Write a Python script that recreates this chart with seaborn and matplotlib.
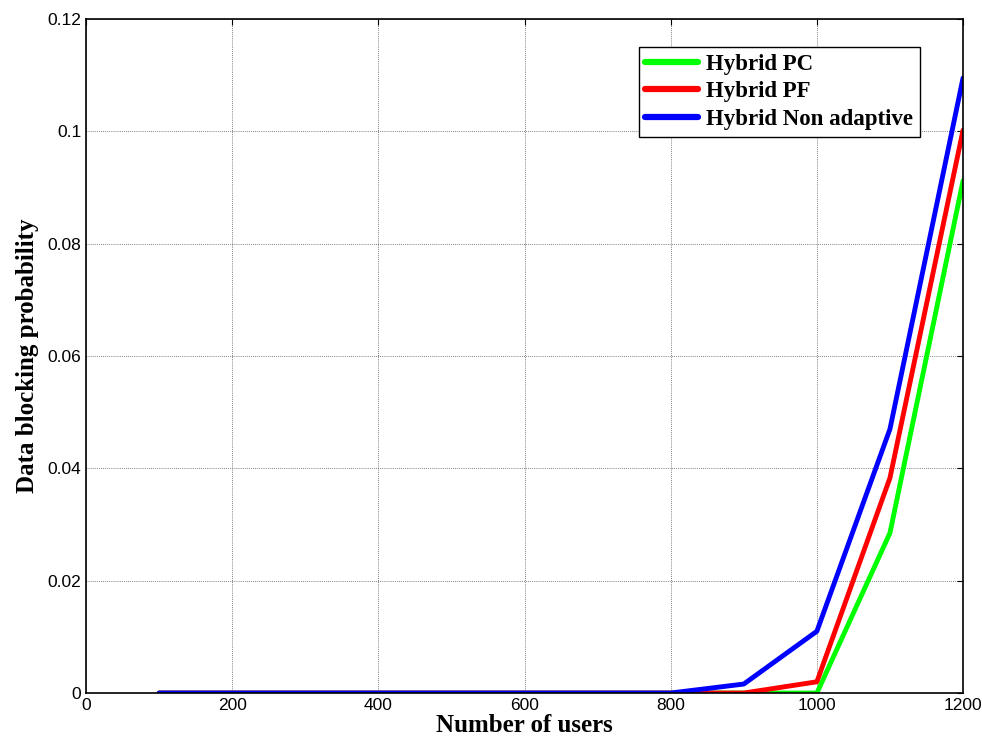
import matplotlib
matplotlib.use("Agg")
import matplotlib.pyplot as plt
import seaborn as sns
import pandas as pd

users = [100, 200, 300, 400, 500, 600, 700, 800, 900, 1000, 1100, 1200]
hybrid_pc = [0, 0, 0, 0, 0, 0, 0, 0, 0, 0, 0.0285, 0.0912]
hybrid_pf = [0, 0, 0, 0, 0, 0, 0, 0, 0, 0.002, 0.0383, 0.1002]
hybrid_na = [0, 0, 0, 0, 0, 0, 0, 0, 0.0016, 0.011, 0.047, 0.1095]
series_names = ["Hybrid PC", "Hybrid PF", "Hybrid Non adaptive"]
colors = ["#00ff00", "#ff0000", "#0000ff"]

rows = []
for name, vals in zip(series_names, [hybrid_pc, hybrid_pf, hybrid_na]):
    for u, v in zip(users, vals):
        rows.append({"users": u, "prob": v, "series": name})
df = pd.DataFrame(rows)

sns.set_style("white")
plt.rcParams['font.family'] = ['Liberation Sans', 'DejaVu Sans']
plt.rcParams['text.color'] = 'black'
plt.rcParams['axes.labelcolor'] = 'black'

fig = plt.figure(figsize=(9.82, 7.42), dpi=100)
ax = fig.add_axes([0.0876, 0.066, 0.8931, 0.9084])

sns.lineplot(data=df, x="users", y="prob", hue="series", hue_order=series_names,
             palette=colors, linewidth=3.5, ax=ax, legend=True)

ax.set_xlim(0, 1200)
ax.set_ylim(0, 0.12)
ax.set_xticks([0, 200, 400, 600, 800, 1000, 1200])
ax.set_yticks([0, 0.02, 0.04, 0.06, 0.08, 0.1, 0.12])
ax.set_xticklabels(["0", "200", "400", "600", "800", "1000", "1200"])
ax.set_yticklabels(["0", "0.02", "0.04", "0.06", "0.08", "0.1", "0.12"])
ax.tick_params(direction="in", top=True, right=True, labelsize=12.5, length=4, width=0.8, colors="black")
ax.grid(True, linestyle=(0, (1, 1.5)), color="#555555", linewidth=0.6)
for s in ax.spines.values():
    s.set_color("black")
    s.set_linewidth(1.2)

ax.set_xlabel("Number of users", fontsize=18, fontweight="bold", family="Liberation Serif", labelpad=1, color="black")
ax.set_ylabel("Data blocking probability", fontsize=18, fontweight="bold", family="Liberation Serif", labelpad=6, color="black")

leg = ax.legend(loc="upper right", bbox_to_anchor=(0.951, 0.9585), frameon=True, fancybox=False,
                edgecolor="black", framealpha=1, handlelength=2.3, handletextpad=0.35,
                borderpad=0.3, labelspacing=0.28, borderaxespad=0,
                prop={"family": "Liberation Serif", "weight": "bold", "size": 16.5})
leg.get_frame().set_linewidth(1.0)
for line in leg.get_lines():
    line.set_linewidth(4.5)
for t in leg.get_texts():
    t.set_color("black")

fig.savefig("out.png", dpi=100)
